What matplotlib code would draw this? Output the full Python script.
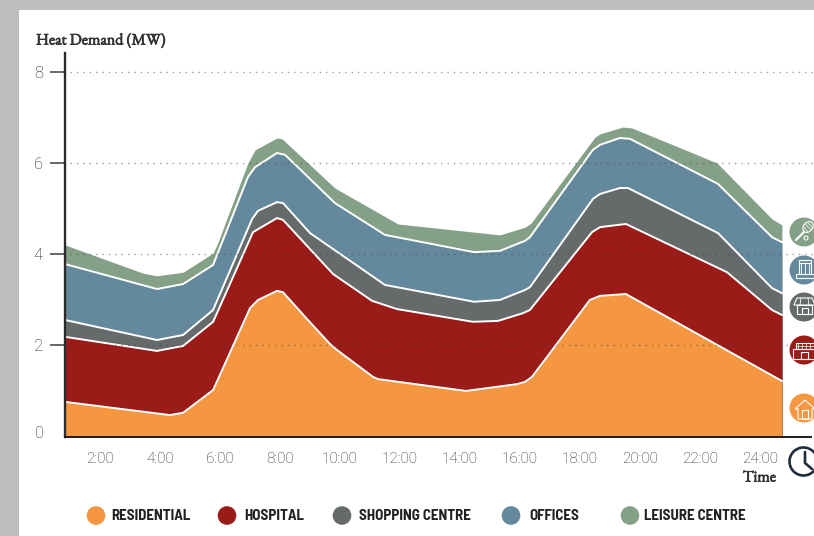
import matplotlib
matplotlib.use("Agg")
import matplotlib.pyplot as plt
import matplotlib.patheffects as pe
from matplotlib.patches import Circle, Ellipse, Rectangle, Polygon

# stack tops: hours and cumulative MW
res_t = [0.83, 4.33, 4.77, 5.77, 7.0, 7.27, 7.9, 8.1, 8.93, 9.67, 9.9, 11.1, 11.27, 14.2, 15.9, 16.17, 16.4, 18.33, 18.67, 19.53, 24.73]
res_v = [0.75, 0.46, 0.51, 1.01, 2.81, 2.99, 3.19, 3.16, 2.55, 2.02, 1.89, 1.30, 1.25, 0.99, 1.14, 1.19, 1.30, 2.99, 3.08, 3.12, 1.21]
hos_t = [0.83, 3.9, 4.77, 5.77, 7.1, 7.9, 8.1, 9.77, 11.07, 11.9, 14.43, 15.27, 16.1, 16.33, 18.4, 18.67, 19.53, 22.9, 24.4, 24.73]
hos_v = [2.18, 1.87, 1.98, 2.51, 4.48, 4.79, 4.75, 3.56, 2.97, 2.79, 2.51, 2.53, 2.70, 2.77, 4.48, 4.59, 4.66, 3.60, 2.77, 2.66]
sho_t = [0.83, 3.9, 4.77, 5.77, 7.07, 7.27, 7.9, 8.1, 9.0, 11.5, 14.47, 15.33, 16.17, 16.33, 18.43, 18.67, 19.33, 19.6, 22.6, 24.4, 24.73]
sho_v = [2.55, 2.11, 2.22, 2.77, 4.77, 4.95, 5.14, 5.12, 4.46, 3.32, 2.95, 2.99, 3.21, 3.27, 5.21, 5.32, 5.45, 5.45, 4.46, 3.25, 3.14]
off_t = [0.83, 3.9, 4.77, 5.77, 6.93, 7.17, 7.9, 8.17, 9.83, 11.5, 14.47, 15.33, 16.17, 16.33, 18.43, 18.67, 19.33, 19.67, 22.6, 24.4, 24.73]
off_v = [3.78, 3.23, 3.34, 3.76, 5.69, 5.91, 6.22, 6.18, 5.12, 4.42, 4.04, 4.07, 4.29, 4.37, 6.29, 6.40, 6.55, 6.53, 5.54, 4.37, 4.26]
lei_t = [0.83, 3.43, 3.9, 4.77, 5.77, 5.9, 6.93, 7.17, 7.9, 8.07, 9.83, 11.93, 15.33, 16.17, 16.37, 18.5, 18.67, 19.43, 19.73, 22.57, 24.4, 24.73]
lei_v = [4.20, 3.58, 3.52, 3.60, 4.02, 4.20, 6.00, 6.29, 6.55, 6.53, 5.45, 4.66, 4.42, 4.59, 4.68, 6.57, 6.64, 6.79, 6.77, 6.00, 4.77, 4.64]

x_ticks = [2, 4, 6, 8, 10, 12, 14, 16, 18, 20, 22, 24]
x_labels = ["2:00", "4:00", "6:00", "8:00", "10:00", "12:00", "14:00", "16:00", "18:00", "20:00", "22:00", "24:00"]
y_ticks = [2, 4, 6, 8]

ORANGE, RED, GREY, BLUE, GREEN = "#f59640", "#9a1b17", "#666a6a", "#65899c", "#84a187"
LABEL_FONT = "Roboto"
SERIF = ["EB Garamond", "Liberation Serif"]
NARROW = ["Barlow Semi Condensed", "Roboto"]
HEAVY = [pe.withStroke(linewidth=0.5, foreground="#333333")]

fig = plt.figure(figsize=(8.14, 5.36), dpi=100, facecolor="#bdbdbd")

# page layer in pixel coordinates, for the panel, legend and icons
page = fig.add_axes([0, 0, 1, 1], zorder=0)
page.set_xlim(0, 814)
page.set_ylim(536, 0)
page.axis("off")
page.add_patch(Rectangle((19, 10), 800, 530, color="white", lw=0))

ax = fig.add_axes([65 / 814, (536 - 436.8) / 536, (811 - 65) / 814, (436.8 - 53) / 536], zorder=1)
ax.patch.set_visible(False)
ax.set_xlim((65 - 40) / 30, (811 - 40) / 30)
ax.set_ylim(-0.8 / 45.5, 383 / 45.5)

# painted back to front, each one down to zero
ax.fill_between(lei_t, lei_v, 0, color=GREEN, lw=0, zorder=2)
for t, v, c, z in [(off_t, off_v, BLUE, 3), (sho_t, sho_v, GREY, 4), (hos_t, hos_v, RED, 5), (res_t, res_v, ORANGE, 6)]:
    ax.fill_between(t, v, 0, color=c, lw=0, zorder=z)
    ax.plot(t, v, color="white", lw=1.4, solid_joinstyle="round", zorder=z + 0.5)

for y, x_end in [(2, 25.0), (4, 25.9), (6, 25.9), (8, 25.9)]:
    ax.plot([1.0, x_end], [y, y], color="#3c3c3c", alpha=0.5, lw=1, ls=(0, (1, 3.6)), zorder=8, clip_on=False)

for s in ["top", "right"]:
    ax.spines[s].set_visible(False)
ax.spines["left"].set_linewidth(1.7)
ax.spines["left"].set_color("#2b2b2b")
ax.spines["bottom"].set_linewidth(1.4)
ax.spines["bottom"].set_color("#1c1c1c")
for s in ax.spines.values():
    s.set_zorder(10)

ax.set_yticks(y_ticks)
ax.set_yticklabels([str(v) for v in y_ticks], fontfamily=LABEL_FONT, fontweight="light", fontsize=12, color="#222222")
ax.tick_params(axis="y", length=0, pad=16)
for y in y_ticks:
    ax.plot([-14 / 746, 0], [y, y], transform=ax.get_yaxis_transform(), color="#666666", lw=1.4, clip_on=False, zorder=9)
ax.set_xticks(x_ticks)
ax.set_xticklabels(x_labels, fontfamily=LABEL_FONT, fontweight="light", fontsize=11, color="#2a2a2a")
ax.tick_params(axis="x", length=0, pad=11)

page.text(44.5, 433, "0", ha="right", va="center", family=LABEL_FONT, fontweight="light", fontsize=12, color="#222222")
page.text(36, 41, "Heat Demand (MW)", ha="left", va="center", family=SERIF, fontsize=11.5, color="#333333", path_effects=HEAVY)
page.text(776, 478, "Time", ha="right", va="center", family=SERIF, fontsize=11.5, color="#333333", path_effects=HEAVY)

# legend
legend_items = [("RESIDENTIAL", ORANGE, 96, 111), ("HOSPITAL", RED, 227, 244), ("SHOPPING CENTRE", GREY, 342, 359),
                ("OFFICES", BLUE, 511, 529), ("LEISURE CENTRE", GREEN, 630, 644)]
for name, c, cx, tx in legend_items:
    page.add_patch(Circle((cx, 515.5), 9.3, color=c, lw=0))
    page.text(tx, 516, name, ha="left", va="center", family=NARROW, fontweight="bold", fontsize=10.8, color="#222222")


def line(*pts, lw=0.8):
    page.plot([p[0] for p in pts], [p[1] for p in pts], color="white", lw=lw, solid_capstyle="round")


def outline(patch):
    patch.set(fill=False, edgecolor="white", lw=0.8)
    page.add_patch(patch)


# right hand icons, cut by the edge of the page like the original
ICON_X = 804
for y, c in [(232, GREEN), (270, BLUE), (307, GREY), (350, RED), (408, ORANGE)]:
    page.add_patch(Circle((ICON_X, y), 14.5, color=c, lw=0))

# racket
outline(Ellipse((808, 227), 9, 12, angle=40))
line((804, 232), (796, 240), lw=1.6)
outline(Circle((806, 238), 2))
line((805, 224), (811, 230), lw=0.5)
line((808, 223), (812, 227), lw=0.5)
line((804, 227), (808, 232), lw=0.5)

# office block
outline(Rectangle((799, 260), 12, 3))
outline(Rectangle((796, 274), 18, 4))
for x in [801, 805, 809]:
    line((x, 263), (x, 274), lw=0.6)
line((799, 263), (799, 274))
line((811, 263), (811, 274))

# shop
outline(Polygon([(797, 298), (812, 298), (815, 305), (794, 305)], closed=True))
outline(Rectangle((797, 305), 15, 9))
outline(Rectangle((802, 308), 6, 6))
line((801, 298), (800, 305), lw=0.6)
line((808, 298), (809, 305), lw=0.6)

# hospital
outline(Rectangle((796, 343), 20, 6))
outline(Rectangle((793, 349), 24, 10))
outline(Rectangle((801, 352), 7, 7))
for x in [798, 802, 806, 810]:
    line((x, 343), (x, 349), lw=0.5)
line((796, 346), (816, 346), lw=0.5)

# house
outline(Polygon([(795, 409), (805, 400), (815, 409), (812, 409), (812, 419), (798, 419), (798, 409)], closed=True))
outline(Rectangle((802, 410), 6, 9))

# clock
page.add_patch(Circle((803.5, 461.5), 14, fill=False, edgecolor="#1f2d3d", lw=1.9))
page.plot([805, 805, 812], [452, 463, 469], color="#1f2d3d", lw=1.9, solid_capstyle="round", solid_joinstyle="round")

fig.savefig("out.png", dpi=100, facecolor=fig.get_facecolor())
